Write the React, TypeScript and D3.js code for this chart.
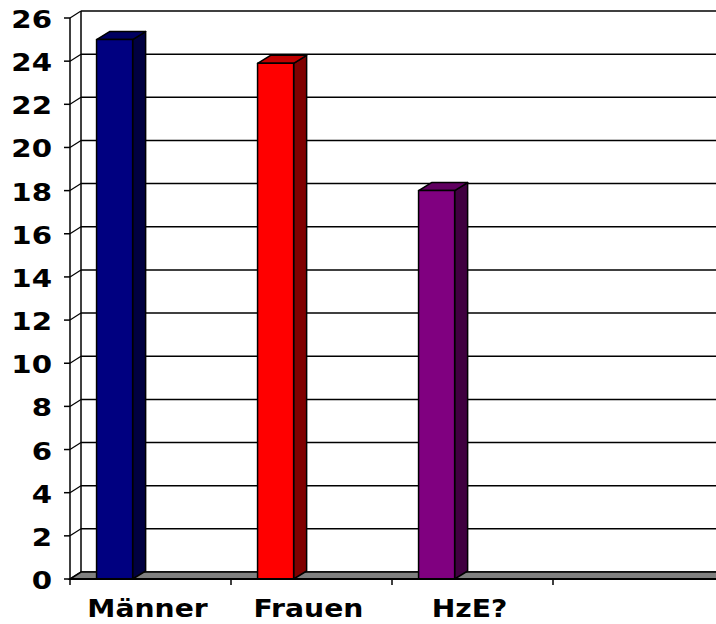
import React from "react";
import * as d3 from "d3";

const categories = ["Männer", "Frauen", "HzE?", ""];
const values = [25, 23.9, 18];
const yTicks = [0, 2, 4, 6, 8, 10, 12, 14, 16, 18, 20, 22, 24, 26];
const frontColors = ["#000080", "#FF0000", "#800080"];
const sideColors = ["#000040", "#800000", "#400040"];
const topColors = ["#000060", "#C00000", "#600060"];

const W = 716;
const H = 624;
const X0 = 70;
const X1 = 714;
const WDX = 11;
const WDY = -7;
const BDX = 13;
const BDY = -8;

export default function App() {
  const x = d3.scaleBand<string>().domain(categories).range([X0, X1]).paddingInner(0).paddingOuter(0);
  const y = d3.scaleLinear().domain([0, 26]).range([579, 18]);
  const bw = x.bandwidth();
  const y0 = y(0);
  const font = "'DejaVu Sans', Verdana, sans-serif";

  return (
    <svg width={W} height={H} style={{ position: "fixed", left: 0, top: 0, background: "#fff" }}>
      <rect x={0} y={0} width={W} height={H} fill="#fff" />
      {/* back wall gridlines and left wall diagonals */}
      {yTicks.map((v) => (
        <g key={"g" + v}>
          <line x1={X0 + WDX} x2={W + 20} y1={y(v) + WDY} y2={y(v) + WDY} stroke="#000" strokeWidth={1.5} />
          <line x1={X0} x2={X0 + WDX} y1={y(v)} y2={y(v) + WDY} stroke="#000" strokeWidth={1.2} />
        </g>
      ))}
      {/* left wall verticals */}
      <line x1={X0 + WDX} x2={X0 + WDX} y1={y(26) + WDY} y2={y0 + WDY} stroke="#000" strokeWidth={1.5} />
      {/* floor */}
      <polygon
        points={`${X0},${y0} ${X0 + WDX},${y0 + WDY} ${W + 20},${y0 + WDY} ${W + 20},${y0}`}
        fill="#808080"
        stroke="#000"
        strokeWidth={1.5}
      />
      {/* bars */}
      {values.map((v, i) => {
        const c = categories[i];
        const bx = (x(c) as number) + bw * 0.165;
        const bwid = bw * 0.224;
        const top = y(v);
        const side = `${bx + bwid},${y0} ${bx + bwid + BDX},${y0 + BDY} ${bx + bwid + BDX},${top + BDY} ${bx + bwid},${top}`;
        const tp = `${bx},${top} ${bx + BDX},${top + BDY} ${bx + bwid + BDX},${top + BDY} ${bx + bwid},${top}`;
        return (
          <g key={c} stroke="#000" strokeWidth={1.5} strokeLinejoin="round">
            <polygon points={side} fill={sideColors[i]} />
            <polygon points={tp} fill={topColors[i]} />
            <rect x={bx} y={top} width={bwid} height={y0 - top} fill={frontColors[i]} />
          </g>
        );
      })}
      {/* axes */}
      <line x1={X0} x2={X0} y1={y(26)} y2={y0} stroke="#000" strokeWidth={1.5} />
      <line x1={X0} x2={W + 20} y1={y0} y2={y0} stroke="#000" strokeWidth={2} />
      {yTicks.map((v) => (
        <line key={"t" + v} x1={X0 - 6} x2={X0} y1={y(v)} y2={y(v)} stroke="#000" strokeWidth={1.5} />
      ))}
      {categories.map((c) => (
        <line key={"xt" + c} x1={x(c) as number} x2={x(c) as number} y1={y0} y2={y0 + 6} stroke="#000" strokeWidth={1.5} />
      ))}
      {/* y labels */}
      {yTicks.map((v) => (
        <g key={"l" + v} transform={`translate(52,${y(v)}) scale(1.17,1)`}>
          <text
            x={0}
            y={0}
            dy="0.4em"
            textAnchor="end"
            fontFamily={font}
            fontWeight="bold"
            fontSize={25}
            fill="#000"
          >
            {v}
          </text>
        </g>
      ))}
      {/* x labels */}
      {categories.map((c) =>
        c ? (
          <g key={"xl" + c} transform={`translate(${(x(c) as number) + bw / 2 - 3},617) scale(1.13,1)`}>
            <text
              x={0}
              y={0}
              textAnchor="middle"
              fontFamily={font}
              fontWeight="bold"
              fontSize={25}
              fill="#000"
            >
              {c}
            </text>
          </g>
        ) : null
      )}
    </svg>
  );
}
